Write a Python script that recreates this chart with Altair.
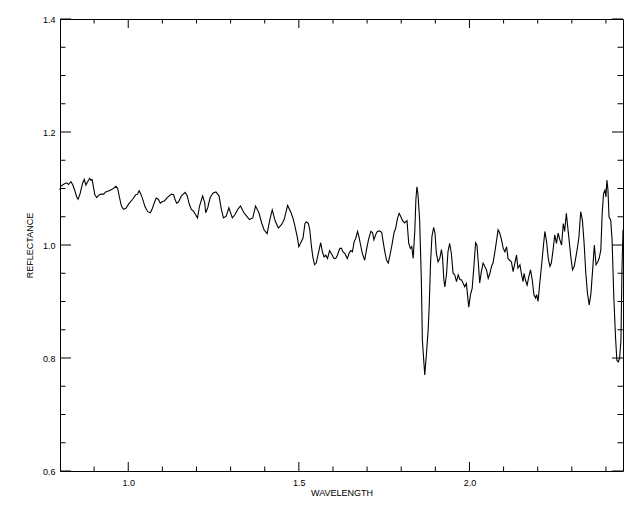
import altair as alt
import pandas as pd

# ---- spectrum data ----
wavelength = [
    0.800, 0.802, 0.812, 0.820, 0.825, 0.832, 0.837, 0.843, 0.849, 0.853,
    0.859, 0.866, 0.871, 0.876, 0.881, 0.887, 0.890, 0.894, 0.898, 0.902,
    0.908, 0.915, 0.922, 0.928, 0.934, 0.944, 0.954, 0.964, 0.969, 0.974,
    0.980, 0.986, 0.993, 1.003, 1.013, 1.022, 1.027, 1.032, 1.037, 1.043,
    1.049, 1.057, 1.065, 1.071, 1.076, 1.082, 1.088, 1.094, 1.100, 1.106,
    1.113, 1.120, 1.127, 1.133, 1.137, 1.142,
    1.147, 1.156, 1.167, 1.173, 1.179, 1.185, 1.191, 1.197, 1.203, 1.209,
    1.218, 1.224, 1.227, 1.233, 1.240, 1.249, 1.257, 1.266, 1.273, 1.279,
    1.287, 1.295, 1.305, 1.313, 1.322, 1.329, 1.339, 1.347, 1.355, 1.365,
    1.373, 1.383, 1.391, 1.398, 1.407, 1.415, 1.422, 1.431, 1.440, 1.449,
    1.457, 1.467, 1.476,
    1.483, 1.489, 1.496, 1.500, 1.505, 1.512, 1.518, 1.522, 1.528, 1.532,
    1.537, 1.541, 1.546, 1.551, 1.556, 1.564, 1.569, 1.574, 1.579, 1.584,
    1.590, 1.596, 1.603, 1.608, 1.613, 1.620, 1.625, 1.629, 1.635, 1.642,
    1.647, 1.652, 1.657, 1.662, 1.667, 1.672, 1.676, 1.681, 1.686, 1.693,
    1.698, 1.704, 1.711, 1.716, 1.720, 1.725, 1.730, 1.737, 1.743, 1.747,
    1.752, 1.757, 1.762, 1.767, 1.772, 1.779, 1.784, 1.789, 1.794, 1.799,
    1.804, 1.810, 1.817,
    1.822, 1.827, 1.831, 1.835, 1.840, 1.843, 1.846, 1.849, 1.854, 1.859,
    1.862, 1.866, 1.869, 1.874, 1.879, 1.882, 1.886, 1.890, 1.895, 1.899,
    1.903, 1.908, 1.913, 1.918, 1.921, 1.925, 1.928, 1.933, 1.937, 1.942,
    1.947, 1.952, 1.957, 1.962, 1.967, 1.972, 1.977, 1.981, 1.986, 1.991,
    1.994, 1.998, 2.003, 2.008, 2.013, 2.018, 2.022, 2.026, 2.030, 2.035,
    2.040, 2.045, 2.050, 2.055, 2.060, 2.065, 2.069, 2.074, 2.079, 2.084,
    2.089, 2.094, 2.099, 2.104,
    2.109, 2.113, 2.118, 2.123, 2.128, 2.133, 2.138, 2.142, 2.148, 2.152,
    2.157, 2.160, 2.164, 2.169, 2.174, 2.179, 2.184, 2.189, 2.194, 2.197,
    2.201, 2.206, 2.211, 2.216, 2.221, 2.226, 2.231, 2.236, 2.240, 2.245,
    2.250, 2.255, 2.260, 2.265, 2.270, 2.275, 2.279, 2.284, 2.287, 2.292,
    2.297, 2.302, 2.307, 2.312, 2.317, 2.321, 2.326, 2.331, 2.336, 2.341,
    2.346, 2.351, 2.356, 2.361, 2.366, 2.371, 2.376, 2.380, 2.385, 2.389,
    2.393, 2.397, 2.400, 2.403, 2.406, 2.409, 2.414, 2.418, 2.423, 2.428,
    2.432, 2.436, 2.440, 2.444, 2.447, 2.450,
]
reflectance = [
    1.097, 1.104, 1.108, 1.110, 1.107, 1.112, 1.107, 1.097, 1.085, 1.081,
    1.091, 1.109, 1.116, 1.106, 1.112, 1.118, 1.115, 1.116, 1.103, 1.089,
    1.084, 1.089, 1.090, 1.090, 1.094, 1.096, 1.099, 1.104, 1.100, 1.085,
    1.069, 1.063, 1.065, 1.074, 1.081, 1.089, 1.090, 1.096, 1.090, 1.080,
    1.068, 1.059, 1.057, 1.065, 1.074, 1.083, 1.081, 1.074, 1.077, 1.078,
    1.083, 1.087, 1.090, 1.089, 1.081, 1.074,
    1.076, 1.087, 1.093, 1.087, 1.072, 1.063, 1.060, 1.054, 1.048, 1.069,
    1.087, 1.075, 1.057, 1.066, 1.084, 1.092, 1.094, 1.087, 1.063, 1.048,
    1.051, 1.066, 1.048, 1.054, 1.064, 1.069, 1.057, 1.051, 1.045, 1.048,
    1.069, 1.057, 1.039, 1.027, 1.020, 1.045, 1.062, 1.042, 1.030, 1.036,
    1.045, 1.070, 1.059,
    1.047, 1.032, 1.012, 0.997, 1.003, 1.012, 1.038, 1.041, 1.038, 1.027,
    0.997, 0.979, 0.965, 0.968, 0.982, 1.004, 0.988, 0.979, 0.982, 0.976,
    0.990, 0.984, 0.976, 0.976, 0.982, 0.994, 0.994, 0.988, 0.985, 0.976,
    0.985, 0.990, 0.988, 1.006, 1.012, 1.024, 1.015, 1.000, 0.985, 0.973,
    0.991, 1.009, 1.024, 1.022, 1.009, 1.018, 1.024, 1.025, 1.022, 1.006,
    0.988, 0.973, 0.968, 0.982, 0.997, 1.022, 1.030, 1.047, 1.056, 1.050,
    1.043, 1.039, 1.043,
    1.003, 0.994, 0.997, 0.976, 1.027, 1.080, 1.103, 1.091, 1.044, 0.938,
    0.832, 0.796, 0.770, 0.808, 0.850, 0.891, 0.968, 1.015, 1.031, 1.021,
    0.985, 0.970, 0.976, 0.992, 0.979, 0.938, 0.926, 0.950, 0.988, 1.003,
    0.985, 0.950, 0.947, 0.935, 0.947, 0.939, 0.938, 0.933, 0.926, 0.932,
    0.914, 0.890, 0.912, 0.923, 0.962, 1.004, 1.000, 0.968, 0.933, 0.953,
    0.968, 0.962, 0.956, 0.941, 0.950, 0.963, 0.968, 0.986, 1.006, 1.027,
    1.021, 1.009, 0.994, 0.988,
    0.997, 0.976, 0.973, 0.970, 0.953, 0.968, 0.982, 0.959, 0.965, 0.950,
    0.935, 0.950, 0.938, 0.929, 0.944, 0.956, 0.938, 0.912, 0.906, 0.912,
    0.900, 0.932, 0.962, 0.994, 1.024, 1.006, 0.976, 0.962, 0.968, 0.991,
    1.018, 1.003, 1.021, 1.009, 1.000, 1.038, 1.024, 1.056, 1.038, 1.009,
    0.979, 0.956, 0.962, 0.979, 0.997, 1.015, 1.059, 1.044, 1.003, 0.950,
    0.914, 0.894, 0.914, 0.956, 1.000, 0.965, 0.970, 0.976, 0.991, 1.056,
    1.091, 1.097, 1.085, 1.115, 1.097, 1.050, 1.044, 1.009, 0.909, 0.838,
    0.796, 0.793, 0.799, 0.832, 0.956, 1.027,
]

# ---- axis decorations ----
x_domain = [0.8, 2.45]
y_domain = [0.6, 1.4]
x_labels = [1.0, 1.5, 2.0]
x_minor = [0.9, 1.1, 1.2, 1.3, 1.4, 1.6, 1.7, 1.8, 1.9, 2.1, 2.2, 2.3, 2.4]
y_labels = [0.6, 0.8, 1.0, 1.2, 1.4]
y_minor = [0.65, 0.7, 0.75, 0.85, 0.9, 0.95, 1.05, 1.1, 1.15, 1.25, 1.3, 1.35]

W, H = 563, 452
FONT = "Liberation Sans"

df = pd.DataFrame({"wl": wavelength, "refl": reflectance})
xs = alt.Scale(domain=x_domain, nice=False, zero=False)
ys = alt.Scale(domain=y_domain, nice=False, zero=False)

x_axis = alt.Axis(
    values=x_labels, format=".1f", ticks=False, tickSize=0, domain=False, grid=False,
    labelFont=FONT, labelFontSize=9, labelColor="black", labelPadding=7,
    title="WAVELENGTH", titleFont=FONT, titleFontSize=9, titleFontWeight="normal",
    titleColor="black", titlePadding=1)
y_axis = alt.Axis(
    values=y_labels, format=".1f", ticks=False, tickSize=0, domain=False, grid=False,
    labelFont=FONT, labelFontSize=9, labelColor="black", labelPadding=5,
    title="REFLECTANCE", titleFont=FONT, titleFontSize=9, titleFontWeight="normal",
    titleColor="black", titlePadding=8)

line = alt.Chart(df).mark_line(color="black", strokeWidth=1.1, interpolate="linear").encode(
    x=alt.X("wl:Q", scale=xs, axis=x_axis),
    y=alt.Y("refl:Q", scale=ys, axis=y_axis),
)

def xticks(vals, length):
    d = pd.DataFrame({"wl": vals})
    base = alt.Chart(d).mark_rule(color="black", strokeWidth=1)
    bottom = base.encode(x=alt.X("wl:Q", scale=xs, axis=x_axis),
                         y=alt.value(H), y2=alt.value(H - length))
    top = base.encode(x=alt.X("wl:Q", scale=xs, axis=x_axis),
                      y=alt.value(0), y2=alt.value(length))
    return [bottom, top]

def yticks(vals, length):
    d = pd.DataFrame({"refl": vals})
    base = alt.Chart(d).mark_rule(color="black", strokeWidth=1)
    left = base.encode(y=alt.Y("refl:Q", scale=ys, axis=y_axis),
                       x=alt.value(0), x2=alt.value(length))
    right = base.encode(y=alt.Y("refl:Q", scale=ys, axis=y_axis),
                        x=alt.value(W), x2=alt.value(W - length))
    return [left, right]

layers = [line]
layers += xticks(x_labels, 9)
layers += xticks(x_minor, 4.5)
layers += yticks(y_labels, 11)
layers += yticks(y_minor, 5.5)

chart = alt.layer(*layers).properties(
    width=W, height=H,
    autosize=alt.AutoSizeParams(type="none"),
    padding={"left": 52, "top": 11, "right": 9, "bottom": 30},
    background="white",
).configure_view(stroke="black", strokeWidth=1)

chart.save("out.html", embed_options={"renderer": "svg", "actions": False})
